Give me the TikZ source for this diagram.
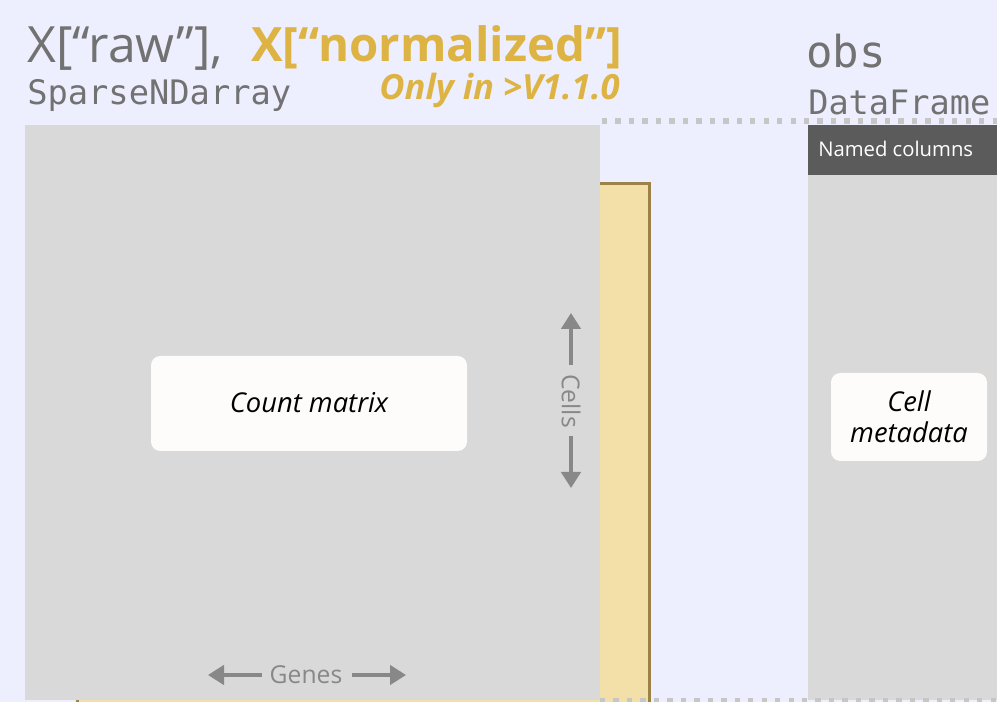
\documentclass[tikz,border=0pt]{standalone}
\usepackage{fontspec}
\setmainfont{Open Sans}
\newfontfamily\monof{DejaVu Sans Mono}
\usetikzlibrary{arrows.meta}
\definecolor{bgc}{HTML}{EEEFFE}
\definecolor{panelgray}{HTML}{D9D9D9}
\definecolor{normfill}{HTML}{F3E0A9}
\definecolor{normdraw}{HTML}{9C8148}
\definecolor{headdark}{HTML}{5B5B5B}
\definecolor{txtgray}{HTML}{727272}
\definecolor{gold}{HTML}{DDB443}
\definecolor{arrgray}{HTML}{888888}
\definecolor{dotgray}{HTML}{C6C6C6}
\definecolor{boxwhite}{HTML}{FDFCFB}
\tikzset{
  panel/.style={fill=panelgray, draw=none, inner sep=0pt, anchor=north west},
  normbox/.style={fill=normfill, draw=normdraw, line width=2.25pt, inner sep=0pt, anchor=north west},
  headbox/.style={fill=headdark, draw=none, inner sep=0pt, anchor=north west},
  labelbox/.style={fill=boxwhite, draw=none, rounded corners=7pt, inner sep=0pt, align=center,
     font=\fontsize{20.5}{23}\selectfont\itshape, text=black},
  dimarrow/.style={draw=arrgray, line width=2.6pt, -{Triangle[length=12pt,width=14.5pt]}},
  dimtext/.style={text=arrgray, font=\fontsize{18.5}{20}\selectfont, inner sep=0pt},
  dotline/.style={draw=dotgray, line width=4.5pt, dash pattern=on 4pt off 6.1pt},
  titlegray/.style={text=txtgray, inner sep=0pt},
}
\begin{document}
\begin{tikzpicture}[x=0.75pt,y=-0.75pt]
\fill[bgc] (0,0) rectangle (997,702);
\useasboundingbox (0,0) rectangle (997,702);
\clip (0,0) rectangle (997,702);

% titles
\node[titlegray, anchor=base west, font=\fontsize{37.5}{40}\selectfont] (rawtitle) at (27,63) {X[“raw”],};
\node[text=gold, inner sep=0pt, anchor=base east, text depth=0.12em, font=\fontsize{35.5}{40}\selectfont\bfseries] (normtitle) at (622,62) {X[“normalized”]};
\node[text=gold, inner sep=0pt, anchor=base east, text height=0.7em, font=\fontsize{26}{30}\selectfont\bfseries\itshape] (onlyin) at (620,99.5) {Only in >V1.1.0};
\node[titlegray, anchor=base west, font=\fontsize{25.3}{28}\monof] (sparse) at (27,105) {SparseNDarray};
\node[titlegray, anchor=base west, font=\fontsize{33}{36}\monof] (obstitle) at (806,68) {obs};
\node[titlegray, anchor=base west, font=\fontsize{25.2}{28}\monof] (dfwtitle) at (808,115) {DataFrame};

% dotted frame line (top)
\coordinate (dotTL) at (602,121.5);
\coordinate (dotTR) at (997,121.5);
\draw[dotline] (dotTL) -- (dotTR);

% normalized layer (behind)
\node[normbox, minimum width=572*0.75pt, minimum height=540*0.75pt] (norm) at (75.5,182.5) {};

% raw count matrix panel
\node[panel, minimum width=575*0.75pt, minimum height=575*0.75pt] (raw) at (25,125) {};

% obs panel
\node[panel, minimum width=200*0.75pt, minimum height=575*0.75pt] (obs) at (808,125) {};
\node[headbox, minimum width=200*0.75pt, minimum height=50*0.75pt] (obshead) at (808,125) {};
\node[text=white, inner sep=0pt, anchor=base west, font=\fontsize{15.2}{17}\selectfont] (namedcols) at (818,157) {Named columns};

% bottom dotted line
\coordinate (dotBL) at (600,701);
\coordinate (dotBR) at (997,701);
\draw[dotline] (dotBL) -- (dotBR);

% label boxes
\node[labelbox, minimum width=316*0.75pt, minimum height=95*0.75pt] (countbox) at (309,403.5) {\raisebox{1.2pt}{Count matrix}};
\node[labelbox, minimum width=156*0.75pt, minimum height=88*0.75pt] (cellbox) at (909,417) {\raisebox{-1.5pt}{Cell}\\\raisebox{-1.5pt}{metadata}};

% Cells dimension arrow
\node[dimtext, rotate=-90] (cells) at (571,401) {Cells};
\coordinate (cellsTopStart) at (571,365);
\coordinate (cellsTop) at (571,313);
\coordinate (cellsBotStart) at (571,436);
\coordinate (cellsBot) at (571,488);
\draw[dimarrow] (cellsTopStart) -- (cellsTop);
\draw[dimarrow] (cellsBotStart) -- (cellsBot);

% Genes dimension arrow
\node[dimtext] (genes) at (306,675) {Genes};
\coordinate (genesLStart) at (262,675);
\coordinate (genesL) at (208,675);
\coordinate (genesRStart) at (352,675);
\coordinate (genesR) at (406,675);
\draw[dimarrow] (genesLStart) -- (genesL);
\draw[dimarrow] (genesRStart) -- (genesR);
\end{tikzpicture}
\end{document}
